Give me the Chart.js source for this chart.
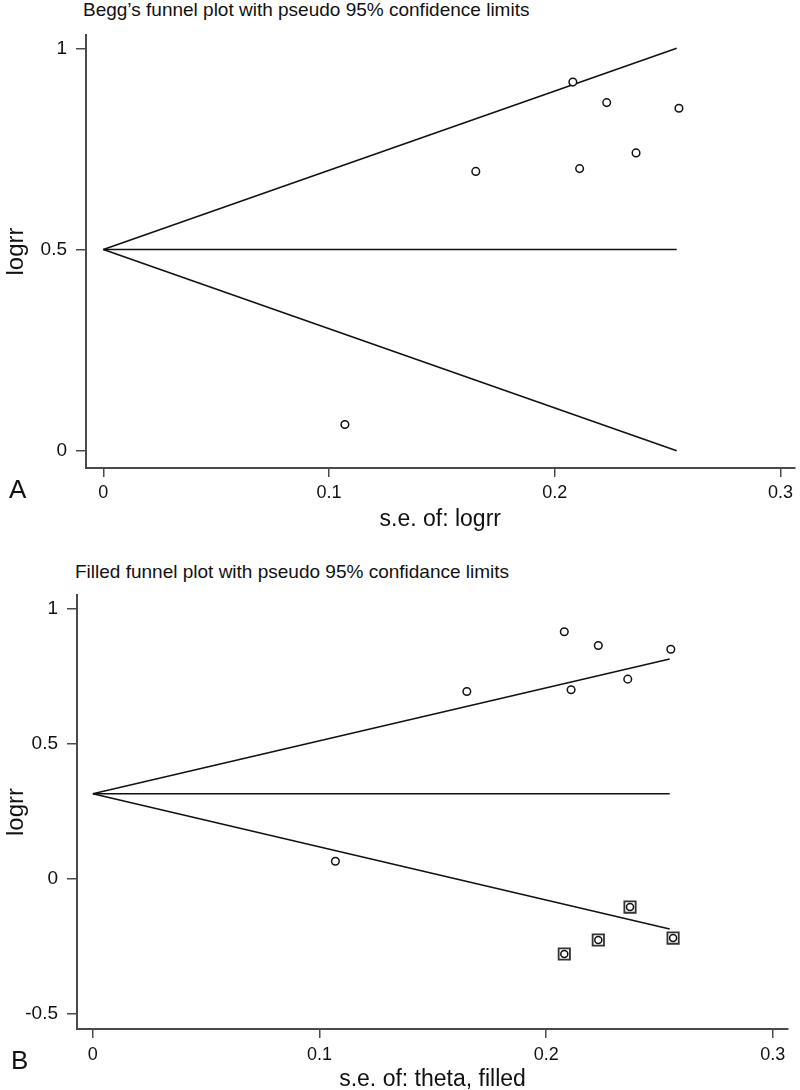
<!DOCTYPE html>
<html>
<head>
<meta charset="utf-8">
<script src="https://cdn.jsdelivr.net/npm/chart.js@4.4.1/dist/chart.umd.min.js"></script>
<style>
  html, body { margin: 0; padding: 0; background: #fff; overflow: hidden; }
  #page { position: relative; width: 800px; height: 1090px; font-family: "Liberation Sans", Arial, sans-serif; color: #111; }
  .title { position: absolute; font-size: 19px; line-height: 20px; white-space: nowrap; }
  .panel { position: absolute; font-size: 26px; line-height: 26px; }
  canvas { position: absolute; left: 0; }
</style>
</head>
<body>
<div id="page">
  <div class="title" style="left:83px;top:0px">Begg’s funnel plot with pseudo 95% confidence limits</div>
  <canvas id="chartA" width="800" height="540" style="top:0"></canvas>
  <div class="panel" style="left:9px;top:476px">A</div>
  <div class="title" style="left:75px;top:562px">Filled funnel plot with pseudo 95% confidance limits</div>
  <canvas id="chartB" width="800" height="560" style="top:540px"></canvas>
  <div class="panel" style="left:11px;top:1047px">B</div>
</div>
<script>
// observed studies: standard error vs log relative risk
const studySe = [0.208, 0.223, 0.255, 0.165, 0.211, 0.236, 0.107];
const studyLogrr = [0.916, 0.865, 0.851, 0.694, 0.701, 0.740, 0.065];

// imputed (filled) studies, panel B only
const filledSe = [0.237, 0.223, 0.256, 0.208];
const filledLogrr = [-0.105, -0.227, -0.220, -0.279];

// pseudo 95% limits (start and end of each line)
const funnelSeA = [0, 0.254];
const upperA = [0.5, 1.0];
const centerA = [0.5, 0.5];
const lowerA = [0.5, 0.0];

const funnelSeB = [0, 0.2545];
const upperB = [0.315, 0.815];
const centerB = [0.315, 0.315];
const lowerB = [0.315, -0.186];

const xTicks = [0, 0.1, 0.2, 0.3];
const yTicksA = [0, 0.5, 1];
const yTicksB = [-0.5, 0, 0.5, 1];

const FONT = '"Liberation Sans", Arial, sans-serif';
const INK = '#111';
const AXIS = '#4a4a4a';

const toPoints = (xs, ys) => xs.map((x, i) => ({ x: x, y: ys[i] }));

function lineSet(xs, ys) {
  return {
    data: toPoints(xs, ys),
    showLine: true,
    borderColor: INK,
    borderWidth: 1.6,
    pointRadius: 0,
    order: 5
  };
}

function circleSet(xs, ys) {
  return {
    data: toPoints(xs, ys),
    showLine: false,
    pointStyle: 'circle',
    pointRadius: 3.8,
    pointBorderWidth: 1.5,
    pointBorderColor: INK,
    pointBackgroundColor: '#fff',
    order: 1
  };
}

function makeScales(opt) {
  return {
    x: {
      type: 'linear',
      min: opt.xMin,
      max: opt.xMax,
      afterBuildTicks: s => { s.ticks = xTicks.map(v => ({ value: v })); },
      afterFit: s => { s.height = opt.xHeight; },
      border: { display: true, color: AXIS, width: 2 },
      grid: { drawOnChartArea: false, color: AXIS, lineWidth: 1.5, tickLength: 9 },
      ticks: {
        autoSkip: false, maxRotation: 0, padding: opt.xPad, color: INK,
        font: { family: FONT, size: 18 },
        callback: v => String(v)
      },
      title: {
        display: true, text: opt.xTitle, color: INK,
        font: { family: FONT, size: 23 },
        padding: { top: 0, bottom: opt.xTitlePad }
      }
    },
    y: {
      type: 'linear',
      min: opt.yMin,
      max: opt.yMax,
      afterBuildTicks: s => { s.ticks = opt.yTicks.map(v => ({ value: v })); },
      afterFit: s => { s.width = opt.yWidth; },
      border: { display: true, color: AXIS, width: 2 },
      grid: { drawOnChartArea: false, color: AXIS, lineWidth: 1.5, tickLength: 10 },
      ticks: {
        autoSkip: false, padding: 9, color: INK,
        font: { family: FONT, size: 19 },
        callback: v => String(v)
      },
      title: {
        display: true, text: 'logrr', color: INK,
        font: { family: FONT, size: 24 },
        padding: { top: 2, bottom: 0 }
      }
    }
  };
}

const baseOptions = {
  responsive: false,
  animation: false,
  plugins: { legend: { display: false }, tooltip: { enabled: false } }
};

new Chart(document.getElementById('chartA').getContext('2d'), {
  type: 'scatter',
  data: {
    datasets: [
      circleSet(studySe, studyLogrr),
      lineSet(funnelSeA, upperA),
      lineSet(funnelSeA, centerA),
      lineSet(funnelSeA, lowerA)
    ]
  },
  options: Object.assign({}, baseOptions, {
    layout: { padding: { left: 0, top: 35, right: 3, bottom: 0 } },
    scales: makeScales({
      xMin: -0.0077, xMax: 0.3062, yMin: -0.043, yMax: 1.033,
      yTicks: yTicksA, xTitle: 's.e. of: logrr',
      xHeight: 72, yWidth: 86, xPad: 5, xTitlePad: 7
    })
  })
});

new Chart(document.getElementById('chartB').getContext('2d'), {
  type: 'scatter',
  data: {
    datasets: [
      circleSet(studySe, studyLogrr),
      Object.assign(circleSet(filledSe, filledLogrr), { pointRadius: 3.5 }),
      {
        data: toPoints(filledSe, filledLogrr),
        showLine: false,
        pointStyle: 'rect',
        pointRadius: 8,
        pointBorderWidth: 1.8,
        pointBorderColor: '#333',
        pointBackgroundColor: '#fff',
        order: 2
      },
      lineSet(funnelSeB, upperB),
      lineSet(funnelSeB, centerB),
      lineSet(funnelSeB, lowerB)
    ]
  },
  options: Object.assign({}, baseOptions, {
    layout: { padding: { left: 0, top: 55, right: 12, bottom: 0 } },
    scales: makeScales({
      xMin: -0.007, xMax: 0.3067, yMin: -0.557, yMax: 1.052,
      yTicks: yTicksB, xTitle: 's.e. of: theta, filled',
      xHeight: 71, yWidth: 77, xPad: 6, xTitlePad: 7
    })
  })
});
</script>
</body>
</html>
